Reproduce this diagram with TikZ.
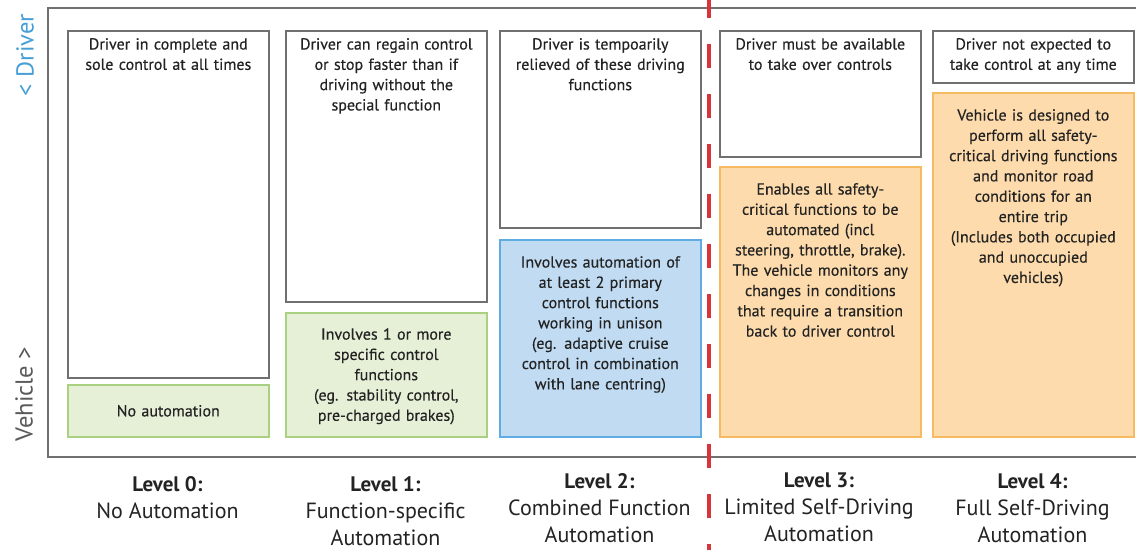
\documentclass[tikz,border=0pt]{standalone}
\usepackage{fontspec}
\setmainfont{PT Sans}
\newfontfamily\medfont{PT Sans}[FakeBold=0.35]
\definecolor{FrameGray}{RGB}{112,112,112}
\definecolor{InkGray}{RGB}{35,35,35}
\definecolor{SideGray}{RGB}{90,90,90}
\definecolor{DriverBlue}{RGB}{70,158,214}
\definecolor{AutoGreen}{RGB}{170,208,130}
\definecolor{AutoGreenFill}{RGB}{229,240,215}
\definecolor{AutoBlue}{RGB}{95,172,226}
\definecolor{AutoBlueFill}{RGB}{192,219,242}
\definecolor{AutoOrange}{RGB}{246,186,96}
\definecolor{AutoOrangeFill}{RGB}{253,219,172}
\definecolor{DashRed}{RGB}{215,52,60}
\usepackage{tikz}
\usetikzlibrary{positioning}

\begin{document}
\begin{tikzpicture}[
    x=1pt, y=-1pt,
    drv/.style={rectangle, draw=FrameGray, line width=1.6pt, fill=white, minimum width=201pt, minimum height=#1, anchor=north west, inner sep=0pt},
    veh/.style={rectangle, draw=#1, fill=#1Fill, line width=1.6pt, minimum width=201pt, anchor=north west, inner sep=0pt},
    txt/.style={text width=198pt, align=center, inner sep=0pt, anchor=north, text=InkGray, font=\medfont\fontsize{16}{20.3}\selectfont},
    lvl/.style={align=center, inner sep=0pt, anchor=north, text=InkGray, font=\fontsize{22}{27}\selectfont},
    side/.style={rotate=90, inner sep=0pt, font=\fontsize{24.5}{28}\selectfont}
]
    \useasboundingbox (0,0) rectangle (1136,550);

    % outer frame, open on the right
    \draw[FrameGray, line width=2.6pt] (1140,8) -- (48,8) -- (48,457) -- (1140,457);

    \node[side, text=DriverBlue] (drvside) at (25,55) {< Driver};
    \node[side, text=SideGray]   (vehside) at (24,394) {Vehicle >};

    % driver boxes
    \node[drv=347pt] (d0) at (67,30)  {};
    \node[drv=271pt] (d1) at (285,30) {};
    \node[drv=197pt] (d2) at (499,30) {};
    \node[drv=126pt] (d3) at (719,30) {};
    \node[drv=52pt]  (d4) at (932,30) {};
    \node[txt, below=8pt of d0.north] (d0t) {Driver in complete and\\sole control at all times};
    \node[txt, below=8pt of d1.north] (d1t) {Driver can regain control\\or stop faster than if\\driving without the\\special function};
    \node[txt, below=8pt of d2.north] (d2t) {Driver is tempoarily\\relieved of these driving\\functions};
    \node[txt, below=8pt of d3.north] (d3t) {Driver must be available\\to take over controls};
    \node[txt, below=8pt of d4.north] (d4t) {Driver not expected to\\take control at any time};

    % vehicle boxes
    \node[veh=AutoGreen, minimum height=52pt]   (v0) at (67,384)  {};
    \node[veh=AutoGreen, minimum height=124pt]  (v1) at (285,312) {};
    \node[veh=AutoBlue, minimum height=197pt]   (v2) at (499,239) {};
    \node[veh=AutoOrange, minimum height=270pt] (v3) at (719,166) {};
    \node[veh=AutoOrange, minimum height=344pt] (v4) at (932,92)  {};
    \node[txt, anchor=center] (v0t) at (v0.center) {No automation};
    \node[txt, below=16pt of v1.north] (v1t) {Involves 1 or more\\specific control\\functions\\(eg. stability control,\\pre-charged brakes)};
    \node[txt, below=17pt of v2.north] (v2t) {Involves automation of\\at least 2 primary\\control functions\\working in unison\\(eg. adaptive cruise\\control in combination\\with lane centring)};
    \node[txt, below=17pt of v3.north] (v3t) {Enables all safety-\\critical functions to be\\automated (incl\\steering, throttle, brake).\\The vehicle monitors any\\changes in conditions\\that require a transition\\back to driver control};
    \node[txt, below=17pt of v4.north] (v4t) {Vehicle is designed to\\perform all safety-\\critical driving functions\\and monitor road\\conditions for an\\entire trip\\(Includes both occupied\\and unoccupied\\vehicles)};

    % level captions
    \node[lvl] (l0) at (167.5,476) {\textbf{\fontsize{21}{22}\selectfont Level 0:}\\No Automation};
    \node[lvl] (l1) at (385.5,476) {\textbf{\fontsize{21}{22}\selectfont Level 1:}\\Function-specific\\Automation};
    \node[lvl] (l2) at (599.5,473) {\textbf{\fontsize{21}{22}\selectfont Level 2:}\\Combined Function\\Automation};
    \node[lvl] (l3) at (819,473)   {\textbf{\fontsize{21}{22}\selectfont Level 3:}\\Limited Self-Driving\\Automation};
    \node[lvl] (l4) at (1032.5,473) {\textbf{\fontsize{21}{22}\selectfont Level 4:}\\Full Self-Driving\\Automation};

    % split between driver-assisted and self-driving
    \coordinate (cuttop) at (709,0);
    \coordinate (cutbot) at (709,550);
    \draw[DashRed, line width=4.5pt, dash pattern=on 24pt off 26pt, dash phase=6pt] (cuttop) -- (cutbot);
\end{tikzpicture}
\end{document}
